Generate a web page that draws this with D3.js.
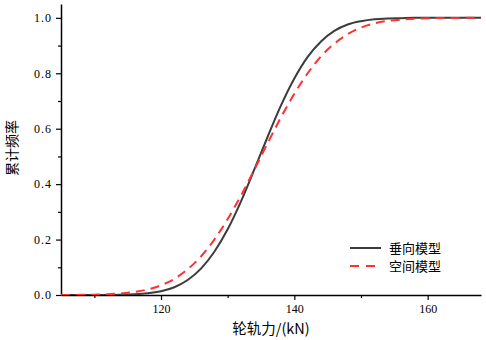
<!DOCTYPE html>
<html>
<head>
<meta charset="utf-8">
<script src="https://cdn.jsdelivr.net/npm/d3@7"></script>
<style>
html,body{margin:0;padding:0;background:#fff;}
svg{display:block;}
</style>
</head>
<body>
<svg id="chart" width="486" height="340"></svg>
<script>
// Wheel-rail force (kN)
const forceKN = [105,106,108,110,112,114,116,118,120,122,124,126,128,130,132,134,136,138,140,142,144,146,148,150,152,154,156,158,160,162,164,166,168];
// Cumulative frequency, vertical model (垂向模型)
const verticalModel = [0,0,0,0.0001,0.0003,0.001,0.0025,0.006,0.0136,0.028,0.054,0.095,0.156,0.237,0.338,0.453,0.571,0.684,0.781,0.859,0.915,0.953,0.976,0.988,0.995,0.998,0.999,1.0,1.0,1.0,1.0,1.0,1.0];
// Cumulative frequency, spatial model (空间模型)
const spatialModel = [0.0001,0.0002,0.0006,0.0013,0.0028,0.0057,0.011,0.020,0.035,0.058,0.093,0.139,0.200,0.274,0.359,0.452,0.548,0.641,0.726,0.800,0.861,0.907,0.941,0.965,0.980,0.989,0.994,0.997,0.9987,0.9995,0.9998,1.0,1.0];
const xTicks = [120,140,160];
const xMinorTicks = [110,130,150];
const yTicks = [0,0.2,0.4,0.6,0.8,1.0];
const yMinorTicks = [0.1,0.3,0.5,0.7,0.9];
const seriesNames = ["垂向模型","空间模型"];

(function(){
const svg = d3.select("#chart");
const mLeft = 61, mRight = 481, mTop = 4, mBottom = 295;
const x = d3.scaleLinear().domain([105,168]).range([mLeft,mRight]);
const y = d3.scaleLinear().domain([0,1.05]).range([mBottom,mTop]);

const numFont = "'Liberation Serif','DejaVu Serif',serif";
const cjkFont = "'Noto Sans CJK SC','Noto Sans CJK JP',sans-serif";

// axes
const gx = svg.append("g").attr("transform",`translate(0,${mBottom})`)
  .call(d3.axisBottom(x).tickValues(xTicks).tickSize(5).tickSizeOuter(0).tickFormat(d3.format("d")));
svg.append("g").attr("transform",`translate(0,${mBottom})`)
  .call(d3.axisBottom(x).tickValues(xMinorTicks).tickSize(3).tickSizeOuter(0).tickFormat(""))
  .call(g=>g.select(".domain").remove());
const gy = svg.append("g").attr("transform",`translate(${mLeft},0)`)
  .call(d3.axisLeft(y).tickValues(yTicks).tickSize(5).tickSizeOuter(0).tickFormat(d3.format(".1f")));
svg.append("g").attr("transform",`translate(${mLeft},0)`)
  .call(d3.axisLeft(y).tickValues(yMinorTicks).tickSize(3).tickSizeOuter(0).tickFormat(""))
  .call(g=>g.select(".domain").remove());

svg.selectAll(".domain").attr("stroke","#000").attr("stroke-width",1.5);
svg.selectAll(".tick line").attr("stroke","#000").attr("stroke-width",1.2);
gx.selectAll(".tick text").attr("font-family",numFont).attr("font-size",12).attr("fill","#000")
  .attr("y",7).attr("dy","0.95em");
gy.selectAll(".tick text").attr("font-family",numFont).attr("font-size",12).attr("fill","#000")
  .attr("letter-spacing","1px").attr("x",-9);

// lines
const lineV = d3.line().x((d,i)=>x(forceKN[i])).y(d=>y(d)).curve(d3.curveMonotoneX);
svg.append("clipPath").attr("id","clip").append("rect")
  .attr("x",mLeft).attr("y",0).attr("width",mRight-mLeft).attr("height",mBottom);
svg.append("path").datum(verticalModel).attr("d",lineV)
  .attr("fill","none").attr("stroke","#3c3c3c").attr("stroke-width",2).attr("clip-path","url(#clip)");
svg.append("path").datum(spatialModel).attr("d",lineV)
  .attr("fill","none").attr("stroke","#ff3030").attr("stroke-width",2)
  .attr("stroke-dasharray","9,6").attr("clip-path","url(#clip)");

// axis titles
svg.append("text").attr("transform","translate(17,148) rotate(-90)")
  .attr("text-anchor","middle").attr("font-family",cjkFont).attr("font-size",14).attr("fill","#000")
  .text("累计频率");
svg.append("text").attr("x",271).attr("y",334).attr("text-anchor","middle")
  .attr("font-family",cjkFont).attr("font-size",14.5).attr("fill","#000")
  .text("轮轨力/(kN)");

// legend
const leg = svg.append("g");
const styles = [{c:"#3c3c3c",d:null},{c:"#ff3030",d:"9,7"}];
seriesNames.forEach((n,i)=>{
  const yy = 248 + i*18;
  leg.append("line").attr("x1",350).attr("x2",381).attr("y1",yy).attr("y2",yy)
    .attr("stroke",styles[i].c).attr("stroke-width",2).attr("stroke-dasharray",styles[i].d);
  leg.append("text").attr("x",389).attr("y",yy+5).attr("font-family",cjkFont)
    .attr("font-size",13).attr("fill","#000").text(n);
});
})();
</script>
</body>
</html>
